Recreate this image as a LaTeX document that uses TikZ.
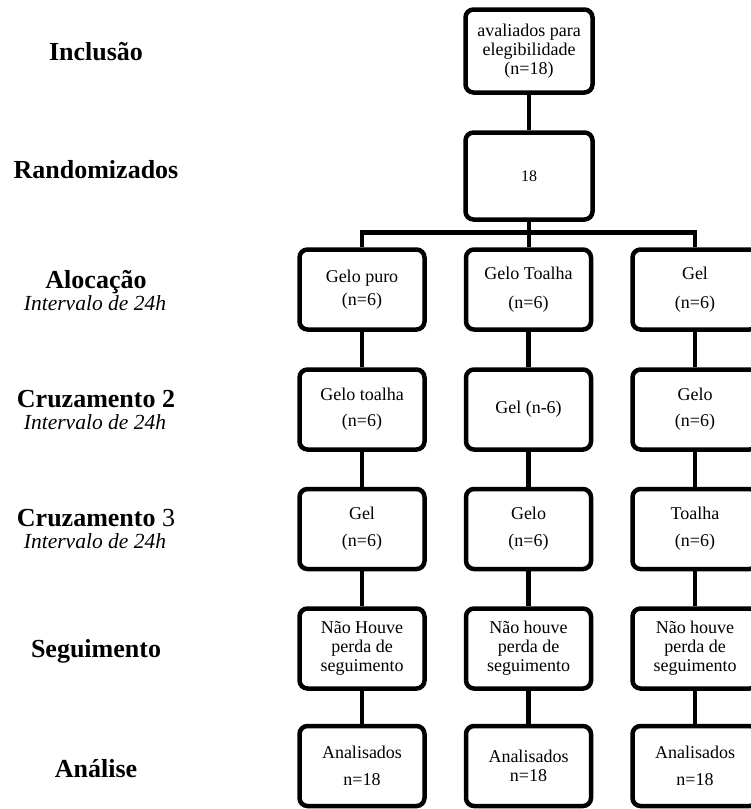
\documentclass[tikz,border=0pt]{standalone}
\usepackage{fontspec}
\setmainfont{Liberation Serif}
\begin{document}
\begin{tikzpicture}[x=1pt,y=-1pt,
  box/.style={draw, line width=4.5pt, rounded corners=8pt, minimum width=125pt, minimum height=80pt, align=center, inner sep=0pt, font=\fontsize{18}{19}\selectfont},
  conn/.style={draw, line width=4.5pt, line join=miter},
  lab/.style={anchor=base, font=\fontsize{26}{28}\selectfont\bfseries},
  sub/.style={anchor=base, font=\fontsize{21.5}{23}\selectfont\itshape}]
\useasboundingbox (0,0) rectangle (751,809);
% left labels
\node[lab] (lInc) at (96,60.5) {Inclusão};
\node[lab] (lRan) at (96,178) {Randomizados};
\node[lab] (lAlo) at (96,288) {Alocação};
\node[sub] (sAlo) at (95,310) {Intervalo de 24h};
\node[lab] (lCr2) at (96,407) {Cruzamento 2};
\node[sub] (sCr2) at (95,429) {Intervalo de 24h};
\node[lab] (lCr3) at (96,526) {Cruzamento \mdseries 3};
\node[sub] (sCr3) at (95,548) {Intervalo de 24h};
\node[lab] (lSeg) at (96,657) {Seguimento};
\node[lab] (lAna) at (96,777) {Análise};
% top boxes
\node[box, minimum width=127pt, minimum height=83pt] (t1) at (529,51) {avaliados para\\elegibilidade\\(n=18)};
\node[box, minimum width=127pt, minimum height=87pt, font=\fontsize{16}{19}\selectfont] (t2) at (529,176) {18};
% rows
\node[box] (a1) at (362,289.5) {Gelo puro\\[4pt](n=6)};
\node[box] (a2) at (528.5,289.5) {Gelo Toalha\\[10pt](n=6)};
\node[box] (a3) at (695,289.5) {Gel\\[10pt](n=6)};
\node[box] (b1) at (362,409.5) {Gelo toalha\\[7pt](n=6)};
\node[box] (b2) at (528.5,409.5) {Gel (n-6)};
\node[box] (b3) at (695,409.5) {Gelo\\[7pt](n=6)};
\node[box] (c1) at (362,529) {Gel\\[8pt](n=6)};
\node[box] (c2) at (528.5,529) {Gelo\\[8pt](n=6)};
\node[box] (c3) at (695,529) {Toalha\\[8pt](n=6)};
\node[box] (d1) at (362,648.5) {Não Houve\\perda de\\seguimento};
\node[box] (d2) at (528.5,648.5) {Não houve\\perda de\\seguimento};
\node[box] (d3) at (695,648.5) {Não houve\\perda de\\seguimento};
\node[box] (e1) at (362,766) {Analisados\\[8pt]n=18};
\node[box] (e2) at (528.5,766) {Analisados\\n=18};
\node[box] (e3) at (695,766) {Analisados\\[8pt]n=18};
% connectors
\coordinate (bus) at (529,232.5);
\draw[conn] (t1.south) -- (t2.north);
\draw[conn] (t2.south) -- (bus);
\draw[conn] (bus) -| (a1.north);
\draw[conn] (bus) -| (a3.north);
\draw[conn] (bus) -- (bus |- a2.north);
\foreach \c in {1,2,3}{
  \draw[conn] (a\c.south) -- (b\c.north);
  \draw[conn] (b\c.south) -- (c\c.north);
  \draw[conn] (c\c.south) -- (d\c.north);
  \draw[conn] (d\c.south) -- (e\c.north);
}
\end{tikzpicture}
\end{document}
